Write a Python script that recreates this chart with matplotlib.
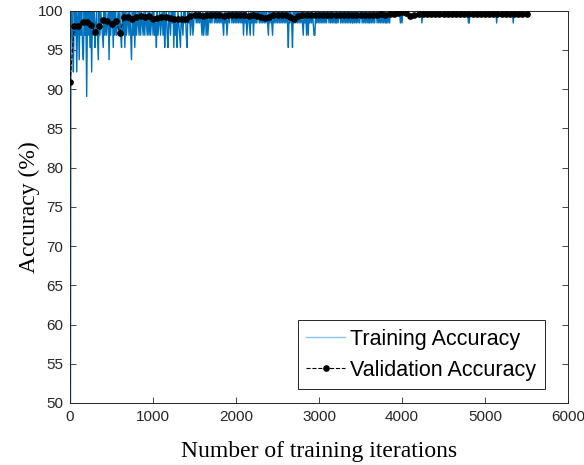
import numpy as np
import matplotlib
matplotlib.use("Agg")
import matplotlib.pyplot as plt

# --- data ---
# minibatch accuracy levels (batch of 64)
levels = [100, 98.4375, 96.875, 95.3125, 93.75, 92.1875, 90.625, 89.0625]

# first minibatch (iteration 0), then one code per 10 iterations (index into levels)
train_first = 9.375
train_codes = [
    "3025020510" "4020340207" "0203050203" "1024020123" "0202104020",
    "0302021020" "2302030210" "2024020302" "1020201202" "0120202102",
    "0213021021" "0203102301" "2010302130" "1230120102" "3010210210",
    "0101010120" "2102021010" "1001010101" "0101201021" "0100101010",
    "1010101020" "1021012010" "2010100101" "0101010120" "1012010101",
    "0101010101" "0130101301" "0101010101" "2010202010" "1012201010",
    "1010101010" "0101010101" "1010010101" "0101010101" "1010101010",
    "0101010101" "1010101001" "0101010101" "1010100000" "0000000101",
    "0000000000" "0000000000" "0001000000" "0000000000" "0000000000",
    "0000000000" "0000000000" "0000000001" "1000000000" "0000000000",
    "0000000000" "0001000000" "0000000000" "0001000000" "0000000000",
]
train_step = 10

# validation accuracy every 50 iterations, 0 .. 5500
val_step = 50
val_acc = [
    90.9, 98.0, 98.1, 98.6, 98.5, 98.2, 97.3, 98.1, 98.8, 98.7,
    98.3, 98.7, 97.2, 99.2, 99.2, 99.0, 99.2, 99.3, 99.2, 99.3,
    99.0, 99.1, 99.2, 99.2, 99.1, 99.0, 98.9, 98.9, 99.0, 99.3,
    99.4, 99.4, 99.3, 99.4, 99.4, 99.5, 99.4, 99.3, 99.4, 99.4,
    99.5, 99.4, 99.4, 99.3, 99.4, 99.3, 99.2, 99.1, 99.2, 99.4,
    99.4, 99.5, 99.4, 99.2, 99.0, 99.3, 99.4, 99.5, 99.4, 99.5,
    99.5, 99.4, 99.5, 99.5, 99.4, 99.5, 99.4, 99.5, 99.4, 99.5,
    99.4, 99.5, 99.4, 99.5, 99.5, 99.6, 99.5, 99.6, 99.6, 99.7,
    99.8, 99.7, 99.3, 99.5, 99.6, 99.6, 99.6, 99.6, 99.6, 99.6,
    99.6, 99.6, 99.6, 99.6, 99.6, 99.6, 99.6, 99.6, 99.6, 99.6,
    99.6, 99.6, 99.6, 99.6, 99.6, 99.6, 99.6, 99.6, 99.6, 99.6,
    99.6,
]

x_ticks = [0, 1000, 2000, 3000, 4000, 5000, 6000]
y_ticks = [50, 55, 60, 65, 70, 75, 80, 85, 90, 95, 100]

# --- build series ---
codes = "".join(train_codes)
train_acc = np.array([train_first] + [levels[int(c)] for c in codes])
train_iter = np.arange(len(train_acc)) * train_step
val_iter = np.arange(len(val_acc)) * val_step

# --- plot ---
axis_grey = "#262626"
fig = plt.figure(figsize=(5.84, 4.65), dpi=100)
ax = fig.add_axes([0.12, 0.1334, 0.8526, 0.8436])

ax.plot(train_iter, train_acc, color="#0072BD", linewidth=1.0,
        label="Training Accuracy", zorder=2)
ax.plot(val_iter, val_acc, color="black", linestyle="--", linewidth=0.8,
        marker="o", markersize=3.8, markerfacecolor="black",
        markeredgecolor="black", label="Validation Accuracy", zorder=3)

ax.set_xlim(0, 6000)
ax.set_ylim(50, 100)
ax.set_xticks(x_ticks)
ax.set_yticks(y_ticks)
ax.tick_params(direction="in", length=4, width=0.6, colors=axis_grey,
               labelsize=11, top=True, right=True, pad=5)
for lab in ax.get_xticklabels() + ax.get_yticklabels():
    lab.set_fontfamily("Liberation Sans")
for s in ax.spines.values():
    s.set_color(axis_grey)
    s.set_linewidth(0.7)

ax.set_xlabel("Number of training iterations", fontfamily="Liberation Serif",
              fontsize=17, labelpad=12)
ax.set_ylabel("Accuracy (%)", fontfamily="Liberation Serif", fontsize=17,
              labelpad=-2)

leg = ax.legend(loc="lower right", bbox_to_anchor=(0.954, 0.035),
                borderaxespad=0, fancybox=False, framealpha=1,
                edgecolor=axis_grey, handlelength=1.8, handletextpad=0.25,
                labelspacing=0.45, borderpad=0.4,
                prop={"family": "Liberation Sans", "size": 15.5})
leg.get_frame().set_linewidth(0.7)
leg.get_lines()[0].set_color("#8cc4ee")

fig.savefig("out.png", dpi=100)
